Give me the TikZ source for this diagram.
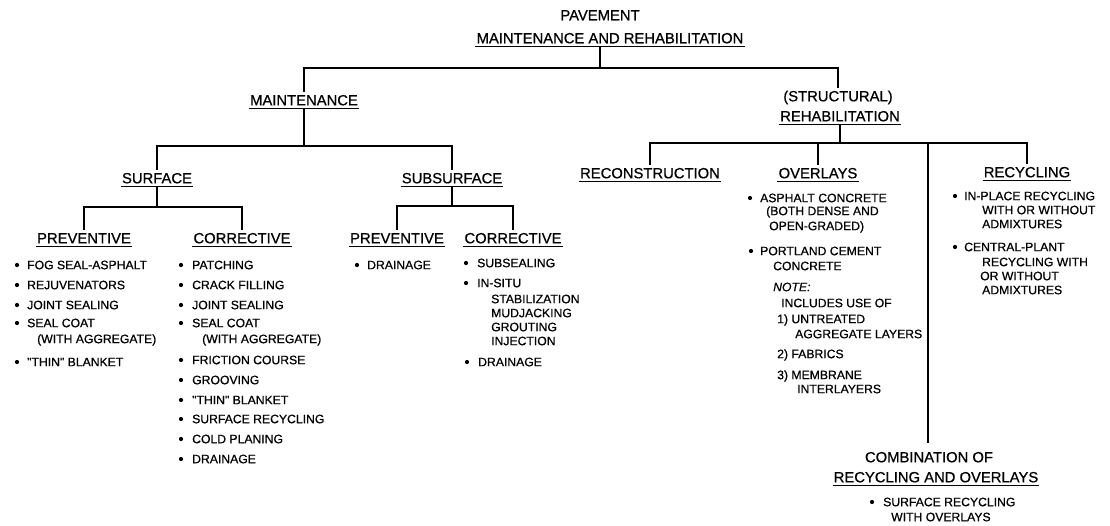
\documentclass[tikz,border=0pt]{standalone}
\usepackage{fontspec}
\newfontfamily\lsans{Liberation Sans}[FakeBold=0.7]
\newcommand{\mkitem}[4]{\node[itm] (#1) at (#2,#3) {#4};}
\newcommand{\mkbul}[2]{\fill (#1,#2) circle (2.1);}
\begin{document}
\begin{tikzpicture}[x=1pt,y=-1pt,
  ul/.style={line width=1.3pt},
  conn/.style={line width=1.8pt},
  head/.style={font=\lsans\fontsize{14.8}{16}\selectfont, inner xsep=1pt, inner ysep=3pt, text height=10.6pt, text depth=0pt},
  uhead/.style={head, append after command={(\tikzlastnode.south west) edge[ul] (\tikzlastnode.south east)}},
  itm/.style={anchor=west, inner sep=0pt, font=\lsans\fontsize{12.2}{13}\selectfont}]
\useasboundingbox (0,0) rectangle (1110,525);

% ---------- headings ----------
\node[head]  (pav)    at (600,15)  {PAVEMENT};
\node[uhead] (mr)     at (610,38)  {MAINTENANCE AND REHABILITATION};
\node[uhead] (maint)  at (304,100) {MAINTENANCE};
\node[head]  (struc)  at (838,96)  {(STRUCTURAL)};
\node[uhead] (rehab)  at (840,116) {REHABILITATION};
\node[uhead] (surf)   at (157,178) {SURFACE};
\node[uhead] (subs)   at (452,178) {SUBSURFACE};
\node[uhead] (prev1)  at (84,238)  {PREVENTIVE};
\node[uhead] (corr1)  at (242,238) {CORRECTIVE};
\node[uhead] (prev2)  at (397,238) {PREVENTIVE};
\node[uhead] (corr2)  at (513,238) {CORRECTIVE};
\node[uhead] (recon)  at (650,173) {RECONSTRUCTION};
\node[uhead] (over)   at (818,173) {OVERLAYS};
\node[uhead] (recy)   at (1027,172){RECYCLING};
\node[head]  (comb1)  at (929,457) {COMBINATION OF};
\node[uhead] (comb2)  at (936,477) {RECYCLING AND OVERLAYS};

% ---------- junctions ----------
\coordinate (j0) at (600,68);
\coordinate (j1) at (304,146);
\coordinate (j2) at (157,207);
\coordinate (j3) at (452,206);
\coordinate (j4) at (840,143);
\coordinate (j5) at (928,143);
\coordinate (j6) at (928,443);

% ---------- connectors ----------
\draw[conn] (mr.south -| j0) -- (j0);
\draw[conn] (maint.north) |- (j0) -| (struc.north);
\draw[conn] (maint.south) -- (j1);
\draw[conn] (surf.north) |- (j1) -| (subs.north);
\draw[conn] (surf.south) -- (j2);
\draw[conn] (prev1.north) |- (j2) -| (corr1.north);
\draw[conn] (subs.south) -- (j3);
\draw[conn] (prev2.north) |- (j3) -| (corr2.north);
\draw[conn] (rehab.south) -- (j4);
\draw[conn] (recon.north) |- (j4) -| (recy.north);
\draw[conn] (over.north) |- (j4);
\draw[conn] (j5) -- (j6);

% ---------- surface preventive ----------
\mkbul{17}{265}\mkitem{sp1}{27}{265}{FOG SEAL-ASPHALT}
\mkbul{17}{285}\mkitem{sp2}{27}{285}{REJUVENATORS}
\mkbul{17}{305}\mkitem{sp3}{27}{305}{JOINT SEALING}
\mkbul{17}{323}\mkitem{sp4}{27}{323}{SEAL COAT}
\mkitem{sp4b}{37}{340}{(WITH AGGREGATE)}
\mkbul{17}{362}\mkitem{sp5}{27}{362}{"THIN" BLANKET}

% ---------- surface corrective ----------
\mkbul{181}{265}\mkitem{sc1}{192}{265}{PATCHING}
\mkbul{181}{285}\mkitem{sc2}{192}{285}{CRACK FILLING}
\mkbul{181}{305}\mkitem{sc3}{192}{305}{JOINT SEALING}
\mkbul{181}{323}\mkitem{sc4}{192}{323}{SEAL COAT}
\mkitem{sc4b}{202}{340}{(WITH AGGREGATE)}
\mkbul{181}{360}\mkitem{sc5}{192}{360}{FRICTION COURSE}
\mkbul{181}{380}\mkitem{sc6}{192}{380}{GROOVING}
\mkbul{181}{400}\mkitem{sc7}{192}{400}{"THIN" BLANKET}
\mkbul{181}{419}\mkitem{sc8}{192}{419}{SURFACE RECYCLING}
\mkbul{181}{439}\mkitem{sc9}{192}{439}{COLD PLANING}
\mkbul{181}{459}\mkitem{sc10}{192}{459}{DRAINAGE}

% ---------- subsurface ----------
\mkbul{357}{265}\mkitem{bp1}{367}{265}{DRAINAGE}
\mkbul{466}{263}\mkitem{bc1}{477}{263}{SUBSEALING}
\mkbul{466}{283}\mkitem{bc2}{477}{283}{IN-SITU}
\mkitem{bc2b}{491}{299}{STABILIZATION}
\mkitem{bc2c}{491}{313}{MUDJACKING}
\mkitem{bc2d}{491}{327}{GROUTING}
\mkitem{bc2e}{491}{341}{INJECTION}
\mkbul{467}{362}\mkitem{bc3}{478}{362}{DRAINAGE}

% ---------- overlays ----------
\mkbul{750}{198}\mkitem{ov1}{760}{198}{ASPHALT CONCRETE}
\mkitem{ov1b}{766}{212}{(BOTH DENSE AND}
\mkitem{ov1c}{769}{227}{OPEN-GRADED)}
\mkbul{751}{251}\mkitem{ov2}{760}{251}{PORTLAND CEMENT}
\mkitem{ov2b}{773}{266}{CONCRETE}
\mkitem{note}{773}{287}{\itshape NOTE:}
\mkitem{ov3}{781}{303}{INCLUDES USE OF}
\mkitem{ov4}{777}{320}{1) UNTREATED}
\mkitem{ov4b}{795}{334}{AGGREGATE LAYERS}
\mkitem{ov5}{777}{355}{2) FABRICS}
\mkitem{ov6}{777}{376}{3) MEMBRANE}
\mkitem{ov6b}{797}{389}{INTERLAYERS}

% ---------- recycling ----------
\mkbul{955}{196}\mkitem{rc1}{964}{196}{IN-PLACE RECYCLING}
\mkitem{rc1b}{982}{210}{WITH OR WITHOUT}
\mkitem{rc1c}{982}{224}{ADMIXTURES}
\mkbul{955}{247}\mkitem{rc2}{964}{247}{CENTRAL-PLANT}
\mkitem{rc2b}{982}{262}{RECYCLING WITH}
\mkitem{rc2c}{980}{276}{OR WITHOUT}
\mkitem{rc2d}{982}{290}{ADMIXTURES}

% ---------- combination ----------
\mkbul{872}{502}\mkitem{cb1}{883}{502}{SURFACE RECYCLING}
\mkitem{cb1b}{891}{517}{WITH OVERLAYS}
\end{tikzpicture}
\end{document}
